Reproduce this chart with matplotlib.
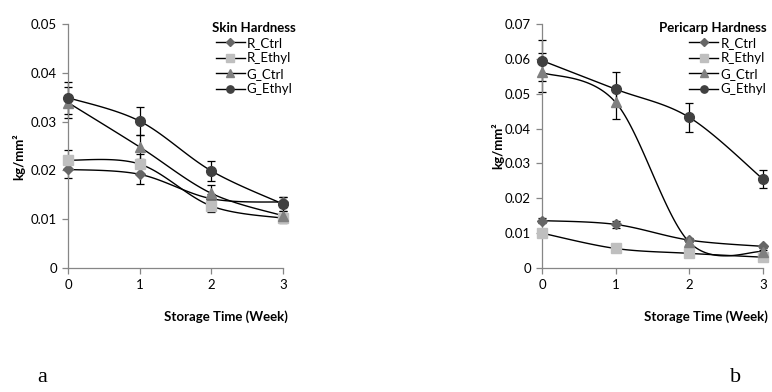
"""Skin and pericarp hardness over storage time (two panels)."""

import matplotlib
matplotlib.use("Agg")
import matplotlib.pyplot as plt
import numpy as np

plt.rcParams["font.family"] = ["Lato", "DejaVu Sans"]

WEEKS = [0, 1, 2, 3]
SERIES = ["R_Ctrl", "R_Ethyl", "G_Ctrl", "G_Ethyl"]

# skin hardness (kg/mm2) and error bars
skin_r_ctrl = [0.0202, 0.0192, 0.0142, 0.0135]
skin_r_ethyl = [0.0221, 0.0213, 0.0127, 0.0102]
skin_g_ctrl = [0.0339, 0.0248, 0.0153, 0.0107]
skin_g_ethyl = [0.0349, 0.0301, 0.0199, 0.0131]
skin_r_ctrl_err = [0.0018, 0.0020, 0.0010, 0.0010]
skin_r_ethyl_err = [0.0020, 0.0020, 0.0012, 0.0009]
skin_g_ctrl_err = [0.0032, 0.0025, 0.0018, 0.0010]
skin_g_ethyl_err = [0.0033, 0.0028, 0.0020, 0.0015]

# pericarp hardness (kg/mm2) and error bars
peri_r_ctrl = [0.0136, 0.0125, 0.0080, 0.0062]
peri_r_ethyl = [0.0100, 0.0056, 0.0042, 0.0031]
peri_g_ctrl = [0.0561, 0.0475, 0.0074, 0.0047]
peri_g_ethyl = [0.0595, 0.0513, 0.0432, 0.0255]
peri_r_ctrl_err = [0.0008, 0.0010, 0.0006, 0.0005]
peri_r_ethyl_err = [0.0008, 0.0005, 0.0004, 0.0003]
peri_g_ctrl_err = [0.0057, 0.0047, 0.0008, 0.0006]
peri_g_ethyl_err = [0.0058, 0.0048, 0.0042, 0.0026]

STYLES = {
    "R_Ctrl": dict(marker="D", color="#666666", ms=5.5),
    "R_Ethyl": dict(marker="s", color="#bfbfbf", ms=7),
    "G_Ctrl": dict(marker="^", color="#808080", ms=7.5),
    "G_Ethyl": dict(marker="o", color="#404040", ms=7),
}
AXIS_GRAY = "#868686"


def excel_smooth(x, y, n=40):
    """Bezier smoothing like Excel's 'smoothed line' option."""
    pts = np.column_stack([x, y]).astype(float)
    out = []
    t = np.linspace(0, 1, n)[:, None]
    for i in range(len(pts) - 1):
        p0 = pts[max(i - 1, 0)]
        p1 = pts[i]
        p2 = pts[i + 1]
        p3 = pts[min(i + 2, len(pts) - 1)]
        b1 = p1 + (p2 - p0) / 6
        b2 = p2 - (p3 - p1) / 6
        seg = ((1 - t) ** 3) * p1 + 3 * ((1 - t) ** 2) * t * b1 + 3 * (1 - t) * t ** 2 * b2 + t ** 3 * p2
        out.append(seg if i == 0 else seg[1:])
    seg = np.vstack(out)
    return seg[:, 0], seg[:, 1]


def draw_panel(ax, values, errors, ymax, title, legend_xy, align):
    for name, vals, err in zip(SERIES, values, errors):
        st = STYLES[name]
        ax.errorbar(WEEKS, vals, yerr=err, fmt="none", ecolor="black",
                    elinewidth=0.9, capsize=3, capthick=0.9, clip_on=False, zorder=2)
        sx, sy = excel_smooth(WEEKS, vals)
        ax.plot(sx, sy, color="black", lw=1.0, zorder=3, clip_on=False)
        ax.plot(WEEKS, vals, linestyle="none", marker=st["marker"], ms=st["ms"],
                color=st["color"], mec=st["color"], zorder=4, clip_on=False)

    handles = [
        plt.Line2D([], [], color="black", lw=1.0, marker=STYLES[s]["marker"],
                   ms=STYLES[s]["ms"], mfc=STYLES[s]["color"], mec=STYLES[s]["color"])
        for s in SERIES
    ]
    leg = ax.legend(handles, SERIES, title=title, loc="upper left",
                    bbox_to_anchor=legend_xy, bbox_transform=ax.figure.transFigure,
                    frameon=False, fontsize=9.5, title_fontproperties={"weight": "bold", "size": 9.5},
                    handlelength=2.2, handletextpad=0.15, labelspacing=0.26,
                    markerscale=0.75, borderpad=0, borderaxespad=0, alignment=align)

    ax.set_xlim(0, 3)
    ax.set_ylim(0, ymax)
    ax.set_xticks(WEEKS)
    ax.set_yticks(np.arange(0, ymax + 1e-9, 0.01))
    ax.yaxis.set_major_formatter(plt.FuncFormatter(lambda v, _: "0" if v == 0 else f"{v:.2f}"))
    for side in ("top", "right"):
        ax.spines[side].set_visible(False)
    for side in ("left", "bottom"):
        ax.spines[side].set_color(AXIS_GRAY)
        ax.spines[side].set_linewidth(0.9)
    ax.tick_params(direction="out", length=4, width=0.9, color=AXIS_GRAY,
                   labelsize=9.5, pad=4)
    ax.set_xlabel("Storage Time (Week)", fontsize=9.5, fontweight="bold", ha="right")
    ax.set_ylabel("kg/mm²", fontsize=9.5, fontweight="bold")
    return leg


fig = plt.figure(figsize=(7.72, 3.92), dpi=100)
ax_a = fig.add_axes([0.0881, 0.3163, 0.2785, 0.6225])
ax_b = fig.add_axes([0.7021, 0.3163, 0.2862, 0.6225])

draw_panel(ax_a,
           [skin_r_ctrl, skin_r_ethyl, skin_g_ctrl, skin_g_ethyl],
           [skin_r_ctrl_err, skin_r_ethyl_err, skin_g_ctrl_err, skin_g_ethyl_err],
           0.05, "Skin Hardness", (0.2747, 0.945), "center")
draw_panel(ax_b,
           [peri_r_ctrl, peri_r_ethyl, peri_g_ctrl, peri_g_ethyl],
           [peri_r_ctrl_err, peri_r_ethyl_err, peri_g_ctrl_err, peri_g_ethyl_err],
           0.07, "Pericarp Hardness", (0.853, 0.945), "right")

ax_a.xaxis.set_label_coords(1.023, -0.175)
ax_b.xaxis.set_label_coords(1.023, -0.175)
ax_a.yaxis.set_label_coords(-0.20, 0.455)
ax_b.yaxis.set_label_coords(-0.17, 0.5)

fig.text(0.048, 0.025, "a", family="Liberation Serif", fontsize=16)
fig.text(0.945, 0.025, "b", family="Liberation Serif", fontsize=16)

fig.savefig("out.png", dpi=100)
